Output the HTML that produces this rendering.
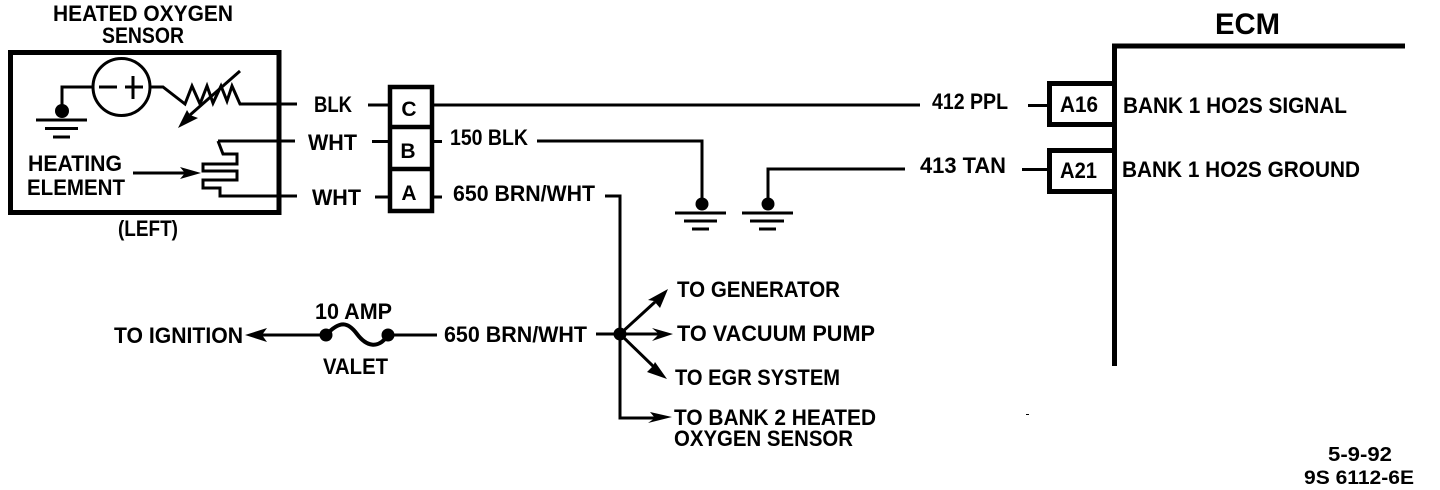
<!DOCTYPE html>
<html>
<head>
<meta charset="utf-8">
<style>
html,body{margin:0;padding:0;background:#fff;width:1440px;height:490px;overflow:hidden}
svg{display:block}
text{font-family:"Liberation Sans",sans-serif;font-weight:bold;font-size:22px;fill:#000}
.w{fill:none;stroke:#000;stroke-width:3}
.t{fill:none;stroke:#000;stroke-width:4}
.k{fill:none;stroke:#000;stroke-width:5}
</style>
</head>
<body>
<svg xmlns="http://www.w3.org/2000/svg" width="1440" height="490" viewBox="0 0 1440 490">
<rect width="1440" height="490" fill="#fff"/>

<!-- Sensor box -->
<rect x="10.5" y="52.5" width="268.5" height="160" class="k"/>
<text x="53" y="21" textLength="180" lengthAdjust="spacingAndGlyphs">HEATED OXYGEN</text>
<text x="102" y="43" textLength="82" lengthAdjust="spacingAndGlyphs">SENSOR</text>
<text x="118" y="236" textLength="60" lengthAdjust="spacingAndGlyphs">(LEFT)</text>

<circle cx="121.5" cy="87" r="28.5" class="w"/>
<path d="M99 87H117M125 87H143M133 76V99" class="w"/>
<path d="M93 87H62V110" class="w"/>
<circle cx="62" cy="111" r="7"/>
<path d="M36 120H87M45 128.500H78M53 137H70" class="w"/>
<path d="M150 87H163L185 104L192 86L200 104L207 86L213 103L221 86L227 101L232 86L240 104H297" class="w"/>
<path d="M240 71L190 115" class="w"/>
<path d="M178 128L187 110L190 115L198 118Z"/>

<path d="M218 141H295M218 141L223 154H237V164H203V171H237V180H203V188H220V196H297" class="w"/>
<text x="28" y="171" textLength="94" lengthAdjust="spacingAndGlyphs">HEATING</text>
<text x="27" y="195" textLength="98" lengthAdjust="spacingAndGlyphs">ELEMENT</text>
<path d="M133 173H185" class="w"/>
<path d="M201 173L180 167L185 173L180 179Z"/>

<!-- Wire colours left -->
<text x="314" y="112" textLength="38" lengthAdjust="spacingAndGlyphs">BLK</text>
<text x="308" y="150" textLength="49" lengthAdjust="spacingAndGlyphs">WHT</text>
<text x="312" y="205" textLength="49" lengthAdjust="spacingAndGlyphs">WHT</text>

<!-- Connector -->
<path d="M368 105H388M372 141.500H388M375 197H388" class="w"/>
<rect x="390" y="87" width="42" height="124" class="t" style="stroke-width:4.500"/>
<path d="M390 127H432M390 169H432" class="t" style="stroke-width:4.500"/>
<text x="409" y="116" text-anchor="middle" style="font-size:21px">C</text>
<text x="408" y="158" text-anchor="middle" style="font-size:21px">B</text>
<text x="409" y="200" text-anchor="middle" style="font-size:21px">A</text>

<path d="M434 105H920M434 141.500H442M434 197H442" class="w"/>
<text x="450" y="145" textLength="78" lengthAdjust="spacingAndGlyphs">150 BLK</text>
<text x="453" y="201" textLength="142" lengthAdjust="spacingAndGlyphs">650 BRN/WHT</text>

<!-- Grounds -->
<path d="M537 141H702V200" class="w"/>
<circle cx="702" cy="204" r="6.500"/>
<path d="M675 213H726M684 221H717M692 229H709" class="w"/>
<path d="M905 169H768V200" class="w"/>
<circle cx="768" cy="204" r="6.500"/>
<path d="M742 213H793M750 221H784M759 229H776" class="w"/>

<!-- ECM -->
<text x="1215" y="34" textLength="65" lengthAdjust="spacingAndGlyphs" style="font-size:30px">ECM</text>
<path d="M1114.500 366V46H1405" class="k"/>
<path d="M1114 83.500H1049.500V124.500H1114M1114 150.500H1049.500V191.500H1114" class="k"/>
<path d="M1028 105.500H1047M1022 169.500H1047" class="w"/>
<text x="932" y="109" textLength="76" lengthAdjust="spacingAndGlyphs">412 PPL</text>
<text x="920" y="173" textLength="86" lengthAdjust="spacingAndGlyphs">413 TAN</text>
<text x="1060" y="112" textLength="38" lengthAdjust="spacingAndGlyphs">A16</text>
<text x="1060" y="178" textLength="37" lengthAdjust="spacingAndGlyphs">A21</text>
<text x="1123" y="113" textLength="224" lengthAdjust="spacingAndGlyphs">BANK 1 HO2S SIGNAL</text>
<text x="1122" y="177" textLength="238" lengthAdjust="spacingAndGlyphs">BANK 1 HO2S GROUND</text>

<!-- Junction -->
<path d="M605 196H620V418H655" class="w"/>
<path d="M596 334H660M620 334L655 302M620 334L654 367" class="w"/>
<circle cx="620" cy="334" r="6.500"/>
<path d="M673 334L652 328L659 334L652 341Z"/>
<path d="M672 417L650 412L655 418L648 423Z"/>
<path d="M668 289L660 308L654 301L648 300Z"/>
<path d="M667 379L647 372L653 366L655 362Z"/>
<text x="677" y="297" textLength="163" lengthAdjust="spacingAndGlyphs">TO GENERATOR</text>
<text x="677" y="341" textLength="198" lengthAdjust="spacingAndGlyphs">TO VACUUM PUMP</text>
<text x="675" y="385" textLength="165" lengthAdjust="spacingAndGlyphs">TO EGR SYSTEM</text>
<text x="674" y="425" textLength="202" lengthAdjust="spacingAndGlyphs">TO BANK 2 HEATED</text>
<text x="674" y="446" textLength="179" lengthAdjust="spacingAndGlyphs">OXYGEN SENSOR</text>

<!-- Ignition / fuse -->
<text x="114" y="343" textLength="129" lengthAdjust="spacingAndGlyphs">TO IGNITION</text>
<path d="M262 335H326M388 335H437" class="w"/>
<path d="M245 335L267 328L262 335L267 342Z"/>
<path d="M326 335C340 320 348 322 357 334C366 346 378 350 388 335" class="t"/>
<circle cx="326" cy="335" r="6.500"/>
<circle cx="388" cy="335" r="6.500"/>
<text x="315" y="319" textLength="77" lengthAdjust="spacingAndGlyphs">10 AMP</text>
<text x="323" y="374" textLength="65" lengthAdjust="spacingAndGlyphs">VALET</text>
<text x="444" y="342" textLength="143" lengthAdjust="spacingAndGlyphs">650 BRN/WHT</text>

<!-- Date code -->
<text x="1328" y="461" textLength="64" lengthAdjust="spacingAndGlyphs" style="font-size:20px">5-9-92</text>
<text x="1304" y="484" textLength="110" lengthAdjust="spacingAndGlyphs" style="font-size:19px">9S 6112-6E</text>
<rect x="1026" y="414" width="3" height="1"/>
</svg>
</body>
</html>
